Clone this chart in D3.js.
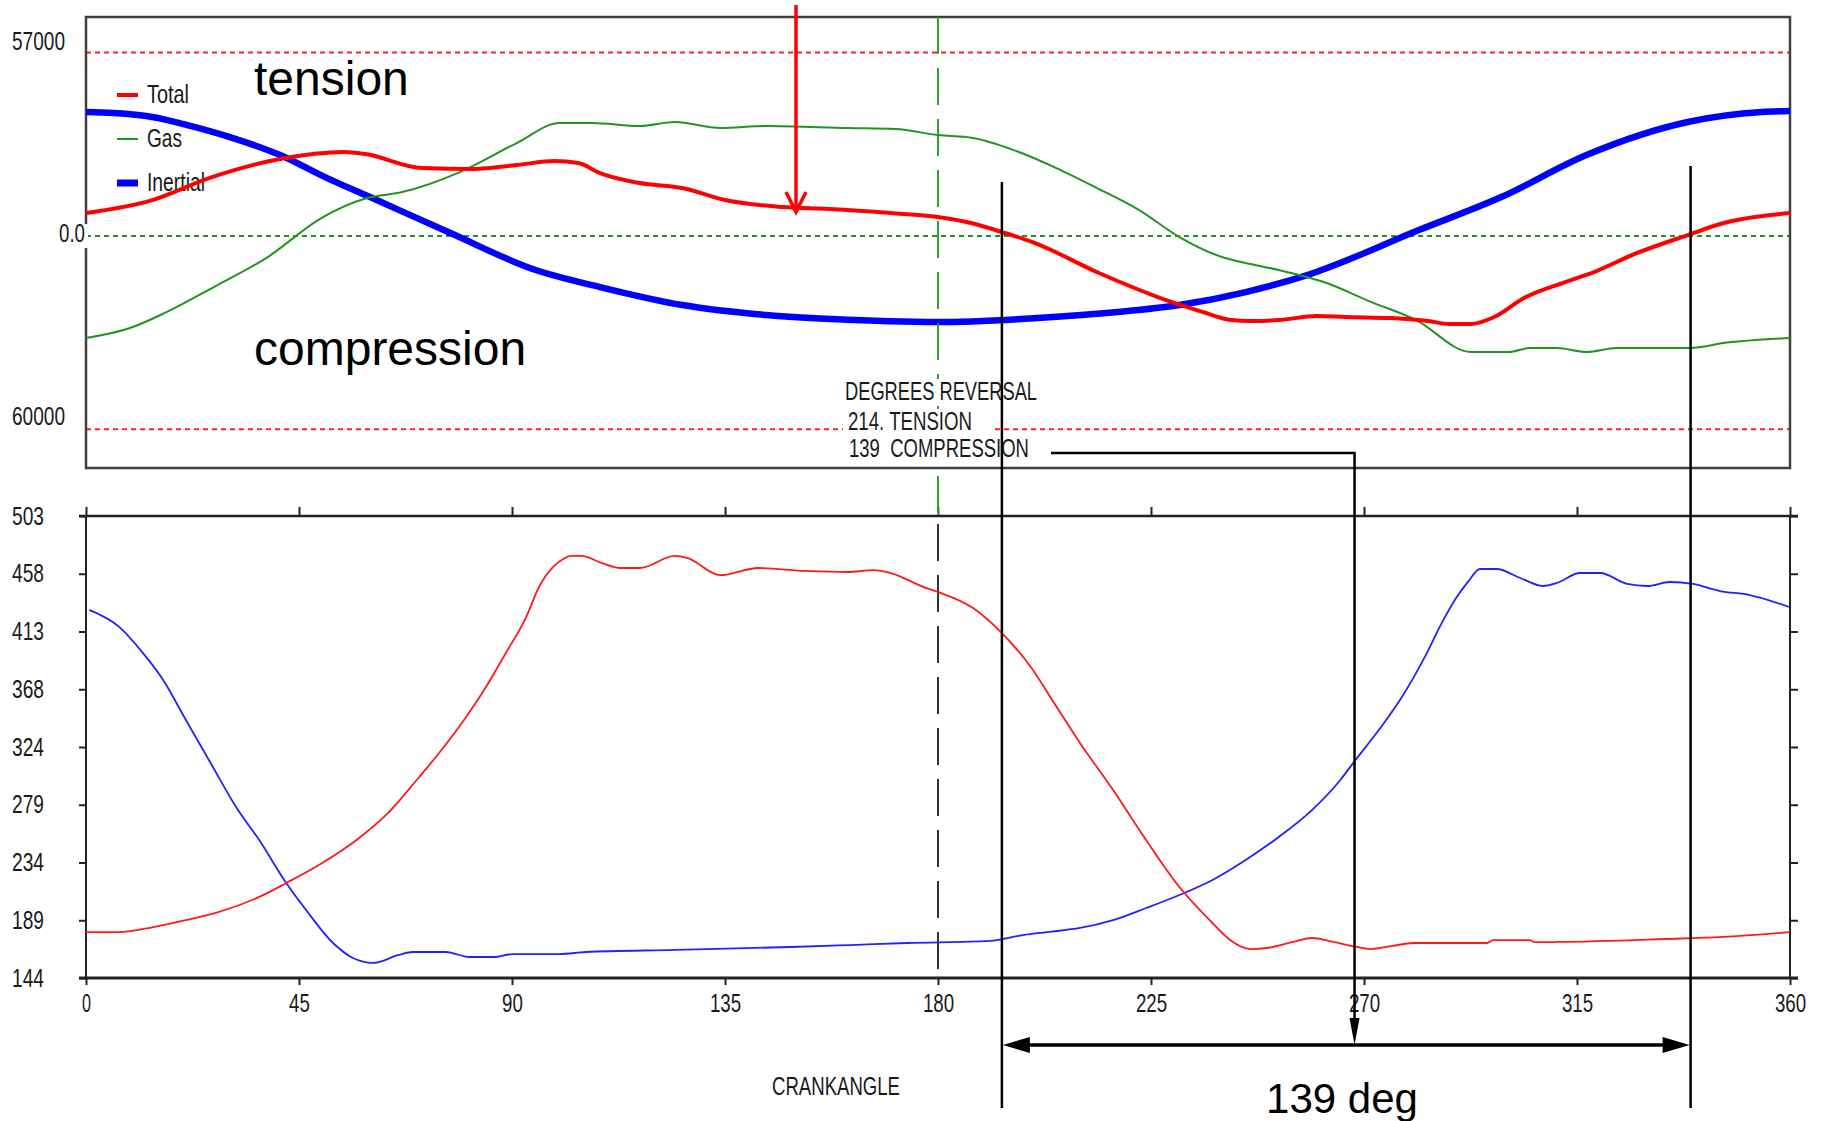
<!DOCTYPE html>
<html>
<head>
<meta charset="utf-8">
<script src="https://cdn.jsdelivr.net/npm/d3@7"></script>
<style>
  body { margin: 0; background: #fff; }
  svg { display: block; }
  text { font-family: "Liberation Sans Narrow", "Liberation Sans", Arial, sans-serif; fill: #1a1a1a; }
  .big { font-family: "Liberation Sans", Arial, sans-serif; fill: #000; }
</style>
</head>
<body>
<div id="chart"></div>
<script>
var svgWidth = 1825;
var svgHeight = 1121;

// ---- data (crank angle in degrees, value) ----
// top panel: rod force
var inertialForce = [[0,38490],[6,38180],[14,36940],[21.4,34450],[30.4,30730],[41,25140],[50.5,18310],[60,12100],
  [77,930],[95,-10550],[108.6,-15830],[126,-21420],[143.7,-24520],[157.6,-25760],[180,-26690],[201,-25450],
  [218,-23590],[231,-21420],[245,-17380],[258,-12100],[281.6,1860],[299,12100],[317,25140],[338.4,35390],
  [354,38490],[360,38800]];
var gasForce = [[0,-31660],[9.3,-28560],[16.6,-23900],[27,-15830],[38.4,-6520],[49.7,5590],[59.4,11800],
  [66.8,13660],[79,19870],[91,28870],[100,35080],[107,35080],[117,34140],[124.4,35390],[134,33520],
  [143.7,34140],[161,33520],[171,33210],[180,31350],[187.4,30420],[196,26690],[205,21100],[213.6,14900],
  [222.5,8070],[231,-310],[240,-6520],[246,-8690],[252,-10550],[261.5,-14280],[271.6,-20490],[281,-26070],
  [292.6,-36000],[300.6,-36000],[305,-34760],[310.7,-34760],[317,-36000],[323.4,-34760],[339,-34760],
  [346,-33210],[360,-31660]];
var totalForce = [[0,7140],[14,11170],[26,18000],[41,23900],[54.5,26070],[59,25450],[71,21100],[82,20800],
  [91,22040],[99,23280],[104,22660],[108.6,19560],[117,16450],[126,14900],[135,11170],[147,9000],[157,8380],
  [170,7140],[180,5900],[187,4040],[193.5,1240],[200.5,-2170],[214,-11480],[227,-19240],[236,-23590],
  [242,-26070],[246,-26380],[252,-26070],[260,-24830],[266,-25140],[275.8,-25450],[283.6,-26380],
  [288,-27320],[292.6,-27320],[297.5,-25140],[303.8,-19240],[312.5,-14280],[318.6,-11170],[326.6,-5900],
  [338.4,310],[346,4040],[360,7140]];
var topTickValues = [57000, 0, -60000];
var topTickLabels = ["57000", "0.0", "60000"];
var topLimits = [57000, -60000];

// bottom panel
var redCurve = [[0,179.7],[7,179.7],[14.2,183.6],[21.1,189],[28.1,195.3],[36.6,207],[42.3,217.8],[49.2,231.8],
  [57.7,252.8],[63.4,270.7],[70.4,300.2],[74.6,318.8],[80.3,346.8],[84.5,370.1],[88.7,396.6],[93,424.5],
  [95.7,447.8],[98.7,463.4],[101,470],[102.5,472],[104.7,472],[108.6,467],[113,462.6],[117,462.6],
  [124.4,472],[127,470.4],[134,457],[142,462.6],[152,460.3],[161,459.5],[166.5,461],[170,458.7],
  [177,447.8],[180,444],[187.4,431.5],[193.5,412],[199.6,385.7],[205,355],[210,326.6],[217,290],[224,251],
  [231,214.7],[238,186.7],[241.7,173.5],[246,166.5],[249.5,167.3],[255,172],[259,175.1],[263.5,172],
  [268.5,168.1],[271.3,166.5],[276,168.9],[280.4,171.2],[296,171.2],[297.3,173.5],[305,173.5],[306,171.8],
  [311,172],[333.5,174.3],[345.8,175.9],[360,179.7]];
var blueCurve = [[0.7,430],[7,416.8],[12,396.6],[16.3,375.6],[21.1,344.5],[26.8,308],[31.7,276.9],[36.6,251.2],
  [42.3,217.8],[46.5,196.8],[52.2,171.2],[56.4,159.5],[60.6,155.7],[66.1,161.9],[69,164.2],[76,164.2],
  [81,160.3],[86,160.3],[90.2,162.6],[100,162.6],[105.6,164.2],[124.4,165.8],[149,168.1],[161.4,169.6],
  [173.6,171.2],[191,172.8],[198,177.4],[204,180],[210,182.9],[217,189],[224,198.4],[231,208.5],[238,220.2],
  [245,235.7],[252,253.6],[259,274.5],[265,297.9],[267.7,311],[273.4,338],[277.6,360],[280.4,377],
  [283.3,396.6],[286,416.8],[289.6,440],[292,452],[294.5,461.8],[298,461.8],[303,454.8],[307.8,448.6],
  [310.8,451],[315.6,458.7],[319.9,458.7],[325.6,450.2],[329.8,448.6],[334.6,451.7],[339.5,450.2],
  [345.2,444.7],[351.5,441.6],[359.8,432.3]];
var botTickValues = [144, 188.875, 233.75, 278.625, 323.5, 368.375, 413.25, 458.125, 503];
var botTickLabels = ["144", "189", "234", "279", "324", "368", "413", "458", "503"];
var angleTicks = [0, 45, 90, 135, 180, 225, 270, 315, 360];

var legendNames = ["Total", "Gas", "Inertial"];
var reversalLines = ["DEGREES REVERSAL", "214. TENSION", "139  COMPRESSION"];

// ---- scales ----
var x = d3.scaleLinear().domain([0, 360]).range([86, 1790]);
var yTop = d3.scaleLinear().domain([-72000, 68000]).range([468, 17]);
var yBot = d3.scaleLinear().domain([144, 503]).range([978, 516]);

var svg = d3.select("#chart").append("svg")
  .attr("width", svgWidth)
  .attr("height", svgHeight);

function narrow(sel, w) {
  sel.attr("textLength", w).attr("lengthAdjust", "spacingAndGlyphs");
}

// ---- top panel ----
var topG = svg.append("g");

topLimits.forEach(function(v) {
  topG.append("line")
    .attr("x1", x(0)).attr("x2", x(360))
    .attr("y1", yTop(v)).attr("y2", yTop(v))
    .attr("stroke", "#ff2020").attr("stroke-width", 2)
    .attr("stroke-dasharray", "5,4");
});
topG.append("line")
  .attr("x1", x(0)).attr("x2", x(360))
  .attr("y1", yTop(0)).attr("y2", yTop(0))
  .attr("stroke", "#1f961f").attr("stroke-width", 2)
  .attr("stroke-dasharray", "5,4");

// vertical line at 180 deg
svg.append("line")
  .attr("x1", x(180)).attr("x2", x(180))
  .attr("y1", 17).attr("y2", yBot(503))
  .attr("stroke", "#1f961f").attr("stroke-width", 1.8)
  .attr("stroke-dasharray", "37,14");
svg.append("line")
  .attr("x1", x(180)).attr("x2", x(180))
  .attr("y1", yBot(503) + 8).attr("y2", yBot(144))
  .attr("stroke", "#333").attr("stroke-width", 2)
  .attr("stroke-dasharray", "37,14");

topG.append("rect")
  .attr("x", x(0)).attr("y", yTop(68000))
  .attr("width", x(360) - x(0)).attr("height", yTop(-72000) - yTop(68000))
  .attr("fill", "none").attr("stroke", "#404040").attr("stroke-width", 2.5);

// tick labels of top panel
var topLabelEnd = [65, 85, 65];
var topLabelDy = [-2.5, 6, -4.4];
var topLabelW = [53, 26, 53];
topTickValues.forEach(function(v, i) {
  if (v === 0) {
    topG.append("rect").attr("x", 57).attr("y", yTop(0) - 12)
      .attr("width", 31).attr("height", 24).attr("fill", "#fff");
  }
  topG.append("text")
    .attr("x", topLabelEnd[i]).attr("y", yTop(v) + topLabelDy[i])
    .attr("text-anchor", "end")
    .style("font-size", "25px")
    .text(topTickLabels[i])
    .call(narrow, topLabelW[i]);
});

topG.append("text").attr("class", "big")
  .attr("x", 254).attr("y", 95).style("font-size", "48px").text("tension");
topG.append("text").attr("class", "big")
  .attr("x", 254).attr("y", 365).style("font-size", "48px").text("compression");

// legend
var legendColors = ["#ff0000", "#1f961f", "#0000ff"];
var legendWidths = [4, 2, 7];
var legendTextW = [42, 35, 58];
var legendY = [95, 139, 183];
legendNames.forEach(function(name, i) {
  topG.append("line")
    .attr("x1", 117).attr("x2", 138)
    .attr("y1", legendY[i]).attr("y2", legendY[i])
    .attr("stroke", legendColors[i]).attr("stroke-width", legendWidths[i]);
  topG.append("text")
    .attr("x", 147).attr("y", legendY[i] + 8)
    .style("font-size", "25px")
    .text(name)
    .call(narrow, legendTextW[i]);
});

var lineTop = d3.line()
  .x(d => x(d[0]))
  .y(d => yTop(d[1]))
  .curve(d3.curveMonotoneX);

topG.append("path").datum(inertialForce)
  .attr("d", lineTop).attr("fill", "none")
  .attr("stroke", "#0000ff").attr("stroke-width", 6.5);
topG.append("path").datum(gasForce)
  .attr("d", lineTop).attr("fill", "none")
  .attr("stroke", "#1f961f").attr("stroke-width", 2);
topG.append("path").datum(totalForce)
  .attr("d", lineTop).attr("fill", "none")
  .attr("stroke", "#ff0000").attr("stroke-width", 4);

// ---- bottom panel ----
var botG = svg.append("g");

var bottomAxis = d3.axisBottom(x).tickValues(angleTicks).tickSize(7).tickSizeOuter(0);
var xAxis = botG.append("g")
  .attr("transform", `translate(0, ${yBot(144)})`)
  .call(bottomAxis);
xAxis.select(".domain").remove();
xAxis.selectAll("text")
  .attr("y", 34).attr("dy", null)
  .style("font-size", "25px").style("font-family", null).attr("fill", "#1a1a1a")
  .each(function(d) {
    var n = String(d).length;
    d3.select(this).call(narrow, n === 1 ? 9 : n * 10.4);
  });

var topAxis = d3.axisTop(x).tickValues(angleTicks).tickSize(9).tickSizeOuter(0).tickFormat("");
var xAxisTop = botG.append("g")
  .attr("transform", `translate(0, ${yBot(503)})`)
  .call(topAxis);
xAxisTop.select(".domain").remove();

var leftAxis = d3.axisLeft(yBot).tickValues(botTickValues).tickSize(7).tickPadding(35)
  .tickFormat((d, i) => botTickLabels[i]);
var yAxis = botG.append("g")
  .attr("transform", `translate(${x(0)}, 0)`)
  .call(leftAxis);
yAxis.select(".domain").remove();
yAxis.selectAll("text")
  .style("font-size", "25px").style("font-family", null).attr("fill", "#1a1a1a")
  .call(narrow, 32);

var rightAxis = d3.axisRight(yBot).tickValues(botTickValues).tickSize(8).tickFormat("");
var yAxisR = botG.append("g")
  .attr("transform", `translate(${x(360)}, 0)`)
  .call(rightAxis);
yAxisR.select(".domain").remove();

botG.selectAll(".tick line").attr("stroke", "#222").attr("stroke-width", 2);
xAxisTop.selectAll(".tick line").filter(d => d === 180).attr("stroke", "#1f961f");

// frame lines
botG.append("line").attr("x1", 79).attr("x2", 1798)
  .attr("y1", yBot(503)).attr("y2", yBot(503))
  .attr("stroke", "#222").attr("stroke-width", 2.5);
botG.append("line").attr("x1", 79).attr("x2", 1798)
  .attr("y1", yBot(144)).attr("y2", yBot(144))
  .attr("stroke", "#222").attr("stroke-width", 3);
botG.append("line").attr("x1", x(0)).attr("x2", x(0))
  .attr("y1", yBot(503)).attr("y2", yBot(144))
  .attr("stroke", "#222").attr("stroke-width", 2);
botG.append("line").attr("x1", x(360)).attr("x2", x(360))
  .attr("y1", yBot(503)).attr("y2", yBot(144))
  .attr("stroke", "#222").attr("stroke-width", 2);

var lineBot = d3.line()
  .x(d => x(d[0]))
  .y(d => yBot(d[1]))
  .curve(d3.curveMonotoneX);

botG.append("path").datum(blueCurve)
  .attr("d", lineBot).attr("fill", "none")
  .attr("stroke", "#2222ff").attr("stroke-width", 1.8);
botG.append("path").datum(redCurve)
  .attr("d", lineBot).attr("fill", "none")
  .attr("stroke", "#ff1a1a").attr("stroke-width", 1.8);

svg.append("text")
  .attr("x", 772).attr("y", 1095)
  .style("font-size", "25px")
  .text("CRANKANGLE")
  .call(narrow, 128);

// ---- annotations ----
var revX = [845, 848, 849];
var revY = [400, 430, 457];
var revW = [192, 124, 180];
var revBg = [197, 152, 192];
reversalLines.forEach(function(t, i) {
  svg.append("rect")
    .attr("x", 843).attr("y", revY[i] - 21)
    .attr("width", revBg[i]).attr("height", 27)
    .attr("fill", "#fff");
});
reversalLines.forEach(function(t, i) {
  svg.append("text")
    .attr("x", revX[i]).attr("y", revY[i])
    .style("font-size", "25px")
    .style("white-space", "pre")
    .text(t)
    .call(narrow, revW[i]);
});

// red arrow
svg.append("line")
  .attr("x1", x(150)).attr("x2", x(150))
  .attr("y1", 5).attr("y2", 211)
  .attr("stroke", "#ff0000").attr("stroke-width", 3.5);
svg.append("path")
  .attr("d", `M${x(150) - 10},192 L${x(150)},212 L${x(150) + 10},192`)
  .attr("fill", "none").attr("stroke", "#ff0000").attr("stroke-width", 3.5);

// vertical reversal marks
svg.append("line")
  .attr("x1", x(193.5)).attr("x2", x(193.5))
  .attr("y1", 182).attr("y2", 1108)
  .attr("stroke", "#000").attr("stroke-width", 2.5);
svg.append("line")
  .attr("x1", x(339)).attr("x2", x(339))
  .attr("y1", 166).attr("y2", 1108)
  .attr("stroke", "#000").attr("stroke-width", 2.5);

// double arrow
var arrowY = 1045;
svg.append("line")
  .attr("x1", x(193.5) + 20).attr("x2", x(339) - 20)
  .attr("y1", arrowY).attr("y2", arrowY)
  .attr("stroke", "#000").attr("stroke-width", 3.5);
svg.append("path")
  .attr("d", `M${x(193.5) + 1},${arrowY} L${x(193.5) + 28},${arrowY - 8} L${x(193.5) + 28},${arrowY + 8} Z`)
  .attr("fill", "#000");
svg.append("path")
  .attr("d", `M${x(339) - 1},${arrowY} L${x(339) - 28},${arrowY - 8} L${x(339) - 28},${arrowY + 8} Z`)
  .attr("fill", "#000");

// pointer from text to the arrow
svg.append("path")
  .attr("d", `M1051,453 L${x(268)},453 L${x(268)},${arrowY - 24}`)
  .attr("fill", "none").attr("stroke", "#000").attr("stroke-width", 2.5);
svg.append("path")
  .attr("d", `M${x(268)},${arrowY} L${x(268) - 5},${arrowY - 27} L${x(268) + 5},${arrowY - 27} Z`)
  .attr("fill", "#000");

svg.append("text").attr("class", "big")
  .attr("x", 1342).attr("y", 1113)
  .attr("text-anchor", "middle")
  .style("font-size", "42px")
  .text("139 deg");
</script>
</body>
</html>
